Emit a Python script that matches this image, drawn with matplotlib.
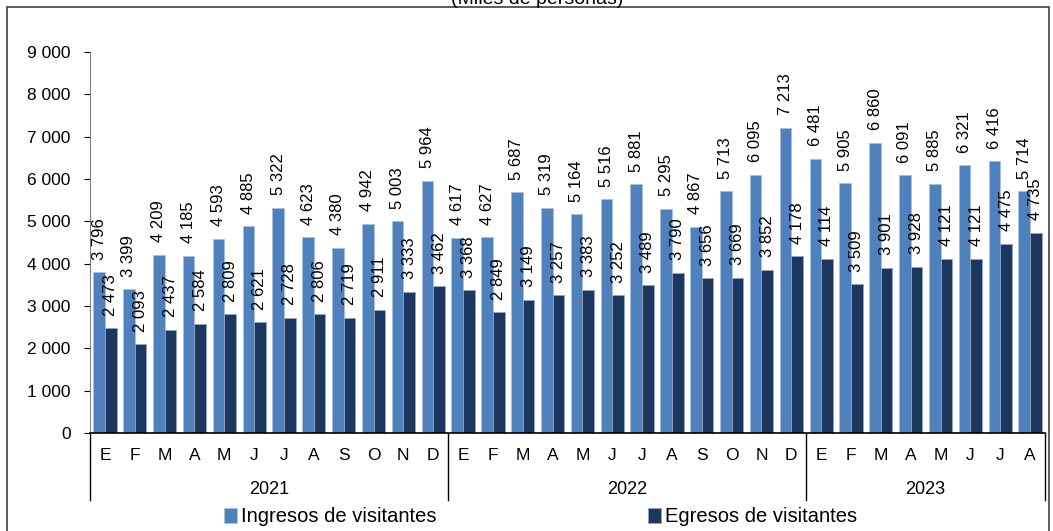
import matplotlib
matplotlib.use("Agg")
import matplotlib.pyplot as plt
from matplotlib.patches import Rectangle
import matplotlib.transforms as mtransforms
import numpy as np

plt.rcParams['font.family'] = ['Liberation Sans', 'DejaVu Sans']

months = ["E", "F", "M", "A", "M", "J", "J", "A", "S", "O", "N", "D",
          "E", "F", "M", "A", "M", "J", "J", "A", "S", "O", "N", "D",
          "E", "F", "M", "A", "M", "J", "J", "A"]
years = ["2021", "2022", "2023"]
months_per_year = [12, 12, 8]

ingresos = [3796, 3399, 4209, 4185, 4593, 4885, 5322, 4623, 4380, 4942, 5003, 5964,
            4617, 4627, 5687, 5319, 5164, 5516, 5881, 5295, 4867, 5713, 6095, 7213,
            6481, 5905, 6860, 6091, 5885, 6321, 6416, 5714]
egresos = [2473, 2093, 2437, 2584, 2809, 2621, 2728, 2806, 2719, 2911, 3333, 3462,
           3368, 2849, 3149, 3257, 3383, 3252, 3489, 3790, 3656, 3669, 3852, 4178,
           4114, 3509, 3901, 3928, 4121, 4121, 4475, 4735]

c_in = "#4F81BD"
c_eg = "#1B365F"

def fmt(v):
    return "{:,}".format(v).replace(",", " ")

W, H = 1053, 531
fig = plt.figure(figsize=(W / 100, H / 100), dpi=100)
ax = fig.add_axes([90 / W, 1 - 433 / H, (1045 - 90) / W, (433 - 52) / H])

x = np.arange(len(months))
bw = 0.39
b1 = ax.bar(x - bw / 2, ingresos, bw, color=c_in, edgecolor="#A9C1E0", linewidth=0.6,
            label="Ingresos de visitantes")
b2 = ax.bar(x + bw / 2, egresos, bw, color=c_eg, edgecolor="#8FA6C4", linewidth=0.6,
            label="Egresos de visitantes")

# etiquetas de datos, giradas
for xi, v in zip(x, ingresos):
    ax.annotate(fmt(v), (xi - bw / 2, v), xytext=(0, 9), textcoords="offset points",
                rotation=90, ha="center", va="bottom", fontsize=12)
for xi, v in zip(x, egresos):
    ax.annotate(fmt(v), (xi + bw / 2, v), xytext=(0, 9), textcoords="offset points",
                rotation=90, ha="center", va="bottom", fontsize=12)

ax.set_xlim(-0.5, len(months) - 0.5)
ax.set_ylim(0, 9000)
ax.set_yticks(range(0, 9001, 1000))
ax.set_yticklabels([fmt(v) for v in range(0, 9001, 1000)], fontsize=12.5)
ax.tick_params(axis="y", length=4, width=0.8, pad=10)
ax.set_xticks([])
ax.spines["top"].set_visible(False)
ax.spines["right"].set_visible(False)
ax.spines["left"].set_color("#808080")
ax.spines["bottom"].set_color("black")
ax.spines["bottom"].set_linewidth(1.2)

trans = mtransforms.blended_transform_factory(ax.transData, ax.transAxes)
axh = 433 - 52
for xi, m in zip(x, months):
    ax.text(xi, -22 / axh, m, transform=trans, ha="center", va="center", fontsize=12.5)

start = 0
for yr, n in zip(years, months_per_year):
    ax.text(start + n / 2 - 0.5, -57 / axh, yr, transform=trans, ha="center", va="center",
            fontsize=13)
    start += n
bounds = np.cumsum([0] + months_per_year) - 0.5
for bx in bounds:
    ax.plot([bx, bx], [0, -67 / axh], transform=trans, color="black", lw=1, clip_on=False)

fig.legend(handles=[b1, b2], loc="center", bbox_to_anchor=(0.513, 1 - 517 / H), ncol=2,
           frameon=False, fontsize=14.5, handlelength=0.65, handleheight=0.75,
           handletextpad=0.2, columnspacing=10.5)

fig.text(537 / W, 1 - 4 / H, "(Miles de personas)", ha="center", va="baseline", fontsize=14)

fig.patches.append(Rectangle((7 / W, -0.01), (1049 - 7) / W, 1 - 7 / H + 0.01,
                             transform=fig.transFigure, fill=False, edgecolor="#404040",
                             lw=1.2))

fig.savefig("out.png", dpi=100)
